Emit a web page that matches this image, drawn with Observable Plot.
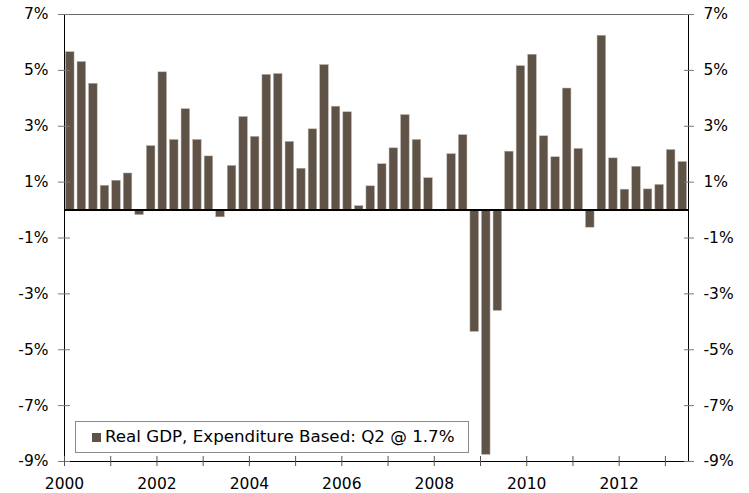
<!DOCTYPE html>
<html>
<head>
<meta charset="utf-8">
<script src="https://cdn.jsdelivr.net/npm/d3@7"></script>
<script src="https://cdn.jsdelivr.net/npm/@observablehq/plot@0.6"></script>
<style>
  html, body { margin: 0; padding: 0; background: #fff; }
  #wrap { position: relative; width: 749px; height: 493px; font-family: "DejaVu Sans", Verdana, sans-serif; }
  #legend { position: absolute; left: 75px; top: 421px; width: 394px; height: 32px; box-sizing: border-box;
            border: 1px solid #8a8a8a; background: #fff; font-size: 16.7px; color: #000; }
  #legend .sw { position: absolute; left: 16px; top: 11px; width: 9px; height: 9px; background: #5f5347; }
  #legend .lab { position: absolute; left: 29px; top: 4px; white-space: nowrap; }
</style>
</head>
<body>
<div id="wrap">
  <div id="chart"></div>
  <div id="legend"><span class="sw"></span><span class="lab"></span></div>
</div>
<script>
const years = [2000, 2001, 2002, 2003, 2004, 2005, 2006, 2007, 2008, 2009, 2010, 2011, 2012, 2013];
const quarterNames = ["Q1", "Q2", "Q3", "Q4"];
const gdpValues = [
  5.65, 5.30, 4.52, 0.87,
  1.05, 1.31, -0.18, 2.29,
  4.93, 2.51, 3.61, 2.51,
  1.92, -0.26, 1.58, 3.33,
  2.62, 4.84, 4.87, 2.44,
  1.48, 2.89, 5.19, 3.70,
  3.50, 0.14, 0.85, 1.64,
  2.21, 3.40, 2.51, 1.14,
  0.00, 2.00, 2.68, -4.36,
  -8.76, -3.61, 2.09, 5.15,
  5.56, 2.64, 1.89, 4.35,
  2.19, -0.63, 6.24, 1.85,
  0.73, 1.55, 0.74, 0.90,
  2.15, 1.72
];
const yTicks = [-9, -7, -5, -3, -1, 1, 3, 5, 7];
const xTicks = [2000, 2001, 2002, 2003, 2004, 2005, 2006, 2007, 2008, 2009, 2010, 2011, 2012, 2013];
const legendLabel = "Real GDP, Expenditure Based: Q2 @ 1.7%";

const quarters = [];
years.forEach(y => quarterNames.forEach((q, i) => quarters.push({year: y, q: i})));
const data = gdpValues.map((v, i) => ({
  label: quarters[i].year + quarterNames[quarters[i].q],
  t: quarters[i].year + quarters[i].q / 4,
  v
}));

const barColor = "#5f5347";

const chart = Plot.plot({
  width: 749,
  height: 493,
  marginLeft: 64,
  marginRight: 61,
  marginTop: 14,
  marginBottom: 32,
  style: {fontFamily: "'DejaVu Sans', Verdana, sans-serif", fontSize: "15px", color: "#000", background: "#fff", overflow: "visible"},
  x: {domain: [2000, 2013.5], label: null},
  y: {domain: [-9, 7], label: null},
  marks: [
    Plot.rectY(data, {x1: "t", x2: d => d.t + 0.25, y: "v", fill: barColor, stroke: "#b9b0a6", strokeWidth: 0.5, insetLeft: 1.5, insetRight: 1.5}),
    Plot.ruleY([0], {stroke: "#000", strokeWidth: 2}),
    Plot.ruleY([7], {stroke: "#666", strokeWidth: 1}),
    Plot.ruleY([-9], {stroke: "#000", strokeWidth: 1}),
    Plot.ruleX([2000], {stroke: "#000", strokeWidth: 1}),
    Plot.ruleX([2013.5], {stroke: "#000", strokeWidth: 1}),
    Plot.axisY({anchor: "left", label: null, ticks: yTicks, tickFormat: d => d + "%", tickSize: 12, dx: 6, tickPadding: 10, stroke: "#777", fill: "#000", fontSize: 15.5}),
    Plot.axisY({anchor: "right", label: null, ticks: yTicks, tickFormat: d => d + "%", tickSize: 10, dx: -5, tickPadding: 10, stroke: "#777", fill: "#000", fontSize: 15.5}),
    Plot.axisX({anchor: "bottom", label: null, ticks: xTicks, tickFormat: d => d % 2 === 0 ? String(d) : "", tickSize: 10, dy: -5, tickPadding: 11, stroke: "#555", fill: "#000", fontSize: 15.5})
  ]
});
document.getElementById("chart").appendChild(chart);
document.querySelector("#legend .lab").textContent = legendLabel;
</script>
</body>
</html>
